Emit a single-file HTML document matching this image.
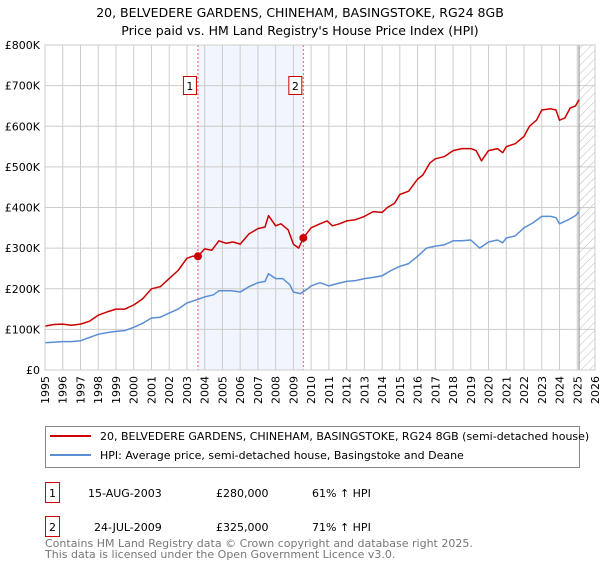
<!DOCTYPE html>
<html><head><meta charset="utf-8"><style>
body{margin:0;background:#fff;font-family:"Liberation Sans","DejaVu Sans",sans-serif}
svg text{font-family:"DejaVu Sans","Liberation Sans",sans-serif}
</style></head><body>
<svg id="c" width="600" height="560" viewBox="0 0 600 560" xmlns="http://www.w3.org/2000/svg">
<text x="300" y="17" text-anchor="middle" font-size="12.5" fill="#000">20, BELVEDERE GARDENS, CHINEHAM, BASINGSTOKE, RG24 8GB</text>
<text x="300" y="35" text-anchor="middle" font-size="12.5" fill="#000">Price paid vs. HM Land Registry's House Price Index (HPI)</text>
<defs><pattern id="hatch" width="6" height="6" patternUnits="userSpaceOnUse" patternTransform="rotate(45)"><line x1="0" y1="0" x2="0" y2="6" stroke="#bbb" stroke-width="1"/></pattern></defs>
<g id="grid"></g><g id="marks"></g>
<rect x="45" y="45" width="550" height="325" fill="none" stroke="#ccc"/>
<g>
<rect x="45.5" y="426.5" width="534" height="41" fill="#fff" stroke="#888"/>
<line x1="50" y1="436" x2="91" y2="436" stroke="#cc0000" stroke-width="2"/>
<text x="100" y="440" font-size="11">20, BELVEDERE GARDENS, CHINEHAM, BASINGSTOKE, RG24 8GB (semi-detached house)</text>
<line x1="50" y1="455" x2="91" y2="455" stroke="#5b8fd4" stroke-width="2"/>
<text x="100" y="459" font-size="11">HPI: Average price, semi-detached house, Basingstoke and Deane</text>
</g>
<g font-size="11">
<rect x="45.5" y="482.5" width="14" height="20" fill="#fff" stroke="#cc0000"/><text x="52.5" y="497" text-anchor="middle">1</text>
<text x="88" y="497">15-AUG-2003</text><text x="216" y="497">£280,000</text><text x="312" y="497">61% ↑ HPI</text>
<rect x="45.5" y="516.5" width="14" height="20" fill="#fff" stroke="#cc0000"/><text x="52.5" y="531" text-anchor="middle">2</text>
<text x="94" y="531">24-JUL-2009</text><text x="216" y="531">£325,000</text><text x="312" y="531">71% ↑ HPI</text>
</g>
<text x="45" y="547" font-size="11" fill="#777">Contains HM Land Registry data © Crown copyright and database right 2025.</text>
<text x="45" y="558" font-size="11" fill="#777">This data is licensed under the Open Government Licence v3.0.</text>
</svg>
<script>
const yearTicks=[1995,1996,1997,1998,1999,2000,2001,2002,2003,2004,2005,2006,2007,2008,2009,2010,2011,2012,2013,2014,2015,2016,2017,2018,2019,2020,2021,2022,2023,2024,2025,2026];
const priceTicks=[0,100,200,300,400,500,600,700,800];
const priceLabels=["£0","£100K","£200K","£300K","£400K","£500K","£600K","£700K","£800K"];
const saleDates=[2003.62,2009.56];
const salePrices=[280,325];
const saleLabels=["1","2"];
const redYears=[1995,1995.5,1996,1996.5,1997,1997.5,1998,1998.5,1999,1999.5,2000,2000.5,2001,2001.5,2002,2002.5,2003,2003.3,2003.62,2004,2004.4,2004.8,2005.2,2005.6,2006,2006.5,2007,2007.4,2007.6,2008,2008.3,2008.7,2009,2009.3,2009.56,2010,2010.5,2010.9,2011.2,2011.6,2012,2012.5,2013,2013.5,2014,2014.3,2014.7,2015,2015.5,2016,2016.3,2016.7,2017,2017.5,2018,2018.5,2019,2019.3,2019.6,2020,2020.5,2020.8,2021,2021.5,2022,2022.3,2022.7,2023,2023.5,2023.8,2024,2024.3,2024.6,2024.9,2025.1];
const redValues=[108,112,113,110,113,120,135,143,150,150,160,175,200,205,225,245,275,280,280,298,295,318,312,315,310,335,348,352,380,355,360,345,310,300,325,350,360,367,355,360,367,370,378,390,388,400,410,432,440,470,480,510,520,525,540,545,545,540,515,540,545,535,550,557,575,600,615,640,643,640,615,620,645,650,665];
const blueYears=[1995,1996,1996.5,1997,1997.5,1998,1998.5,1999,1999.5,2000,2000.5,2001,2001.5,2002,2002.5,2003,2003.62,2004,2004.5,2004.8,2005.5,2006,2006.5,2007,2007.4,2007.6,2008,2008.4,2008.8,2009,2009.4,2009.8,2010,2010.5,2011,2011.5,2012,2012.5,2013,2013.5,2014,2014.5,2015,2015.5,2016,2016.5,2017,2017.5,2018,2018.5,2019,2019.5,2020,2020.5,2020.8,2021,2021.5,2022,2022.5,2023,2023.5,2023.8,2024,2024.5,2024.9,2025.1];
const blueValues=[67,70,70,72,80,88,92,95,97,105,115,128,130,140,150,165,174,180,185,195,195,192,205,215,218,237,225,225,210,192,188,200,207,215,207,213,218,220,225,228,232,245,255,262,280,300,305,308,318,318,320,300,315,320,313,325,330,350,362,378,378,375,360,370,380,390];
const X0=45,X1=595,Y0=370,Y1=45;
const xs=y=>X0+(y-1995)/(2026-1995)*(X1-X0);
const ys=v=>Y0-v/800*(Y0-Y1);
const NS="http://www.w3.org/2000/svg";
function mk(parent,tag,attrs){const e=document.createElementNS(NS,tag);for(const k in attrs)e.setAttribute(k,attrs[k]);parent.appendChild(e);return e;}
const grid=document.getElementById('grid'),marks=document.getElementById('marks');
let e=mk(grid,'rect',{x:xs(saleDates[0]),y:Y1,width:xs(saleDates[1])-xs(saleDates[0]),height:Y0-Y1,fill:'#eef3fc',opacity:0.8});


e=mk(grid,'rect',{x:xs(2025.1),y:Y1,width:X1-xs(2025.1),height:Y0-Y1,fill:'url(#hatch)'});


yearTicks.forEach(y=>{
  mk(grid,'line',{x1:xs(y),x2:xs(y),y1:Y1,y2:Y0,stroke:'#ccc','stroke-width':1});
  const tx=xs(y)+4, ty=376;
  const t=mk(grid,'text',{x:tx,y:ty,'text-anchor':'end','font-size':11,transform:'rotate(-90 '+tx+' '+ty+')'});
  t.textContent=y;
  
  
});
priceTicks.forEach((p,i)=>{
  mk(grid,'line',{x1:X0,x2:X1,y1:ys(p),y2:ys(p),stroke:'#ccc','stroke-width':1});
  const t=mk(grid,'text',{x:40,y:ys(p)+4,'text-anchor':'end','font-size':11});
  t.textContent=priceLabels[i];
  
  
});
e=mk(grid,'line',{x1:xs(2025.1),x2:xs(2025.1),y1:Y1,y2:Y0,stroke:'#888','stroke-width':1});


saleDates.forEach((d,i)=>{
  let l=mk(marks,'line',{x1:xs(d),x2:xs(d),y1:Y1,y2:Y0,stroke:'#e06060','stroke-width':1,'stroke-dasharray':'2,2'});
  
  
});
function path(xa,va,col,name){
  const d=xa.map((x,i)=>(i?'L':'M')+xs(x).toFixed(1)+','+ys(va[i]).toFixed(1)).join('');
  const p=mk(marks,'path',{d:d,fill:'none',stroke:col,'stroke-width':1.5,'stroke-linejoin':'round'});
  
  
}
path(blueYears,blueValues,'#5b8fd4','hpi-line');
path(redYears,redValues,'#cc0000','property-line');
saleDates.forEach((d,i)=>{
  const c=mk(marks,'circle',{cx:xs(d),cy:ys(salePrices[i]),r:4,fill:'#cc0000'});
  
  
  const bx=xs(d)-14;
  const r=mk(marks,'rect',{x:bx-0.5,y:76.5,width:13,height:18,fill:'#fff',stroke:'#cc0000'});
  
  
  const t=mk(marks,'text',{x:bx+6,y:90,'text-anchor':'middle','font-size':11});
  t.textContent=saleLabels[i];
  
  
});
</script>
</body></html>
